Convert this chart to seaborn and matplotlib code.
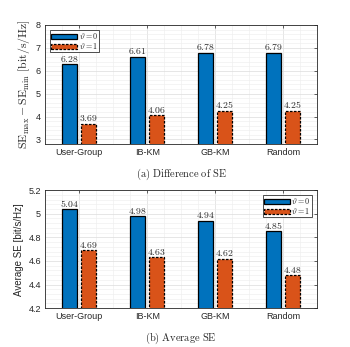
import numpy as np
import pandas as pd
import seaborn as sns
import matplotlib
matplotlib.use('Agg')
import matplotlib.pyplot as plt
from matplotlib.ticker import MultipleLocator, AutoMinorLocator, StrMethodFormatter

# data
schemes = ['User-Group', 'IB-KM', 'GB-KM', 'Random']
theta_labels = [r'$\vartheta = 0$', r'$\vartheta = 1$']
diff_theta0 = [6.28, 6.61, 6.78, 6.79]
diff_theta1 = [3.69, 4.06, 4.25, 4.25]
avg_theta0 = [5.04, 4.98, 4.94, 4.85]
avg_theta1 = [4.69, 4.63, 4.62, 4.48]

sns.set_style('white')
plt.rcParams['font.family'] = ['Liberation Sans', 'DejaVu Sans']
plt.rcParams['mathtext.fontset'] = 'cm'

blue = '#0072BD'
orange = '#D95319'


def frame(a, b):
    return pd.DataFrame({
        'scheme': schemes * 2,
        'theta': [theta_labels[0]] * 4 + [theta_labels[1]] * 4,
        'value': list(a) + list(b),
    })


def draw(ax, df, ylim, major, ylabel, caption, legend_loc, ylabel_size):
    sns.barplot(data=df, x='scheme', y='value', hue='theta', ax=ax,
                palette=[blue, orange], width=0.56, gap=0.18,
                saturation=1, legend=False)
    for i, cont in enumerate(ax.containers):
        for bar in cont:
            bar.set_edgecolor('black')
            bar.set_linewidth(0.9)
            if i == 1:
                bar.set_linestyle((0, (2, 1.2)))
            h = bar.get_height()
            ax.text(bar.get_x() + bar.get_width() / 2, h + (ylim[1] - ylim[0]) * 0.004,
                    f'${h:.2f}$', ha='center', va='bottom', fontsize=7)
    ax.set_ylim(*ylim)
    ax.set_xlim(-0.5, 3.5)
    ax.yaxis.set_major_locator(MultipleLocator(major))
    ax.yaxis.set_major_formatter(StrMethodFormatter('{x:g}'))
    ax.yaxis.set_minor_locator(AutoMinorLocator(5))
    ax.xaxis.set_minor_locator(MultipleLocator(0.25))
    ax.grid(True, which='major', color='#dcdcdc', lw=0.5)
    ax.grid(True, which='minor', color='#ededed', lw=0.4)
    ax.set_axisbelow(True)
    ax.tick_params(which='both', direction='in', top=True, right=True,
                   labelsize=6.5, length=2.5, width=0.5, color='#262626',
                   labelcolor='#262626', pad=3)
    ax.tick_params(which='minor', length=0)
    for s in ax.spines.values():
        s.set_linewidth(0.6)
        s.set_color('#262626')
        s.set_visible(True)
    ax.set_xlabel('')
    ax.set_ylabel(ylabel, fontsize=ylabel_size, color='#262626', labelpad=3)
    ax.text(0.5, -0.19, caption, transform=ax.transAxes, ha='center',
            va='top', fontsize=7.5)
    leg = ax.legend(ax.containers[:2], theta_labels, loc=legend_loc,
                    fontsize=5.8, frameon=True, fancybox=False,
                    edgecolor='black', handlelength=3.2, handleheight=0.55,
                    borderpad=0.15, labelspacing=0.0, handletextpad=0.2,
                    borderaxespad=0.6)
    leg.get_frame().set_linewidth(0.6)


fig = plt.figure(figsize=(3.5, 3.47), dpi=100)
ax1 = fig.add_axes([0.129, 0.585, 0.777, 0.343])
ax2 = fig.add_axes([0.129, 0.112, 0.777, 0.340])

draw(ax1, frame(diff_theta0, diff_theta1), (2.8, 8), 1,
     r'$\mathrm{SE}_{\max} - \mathrm{SE}_{\min}$ $\mathrm{[bit/s/Hz]}$',
     r'$\mathrm{(a)\ Difference\ of\ SE}$', 'upper left', 8.5)
draw(ax2, frame(avg_theta0, avg_theta1), (4.2, 5.2), 0.2,
     'Average SE [bit/s/Hz]',
     r'$\mathrm{(b)\ Average\ SE}$', 'upper right', 7)

fig.savefig('out.png', dpi=100)
